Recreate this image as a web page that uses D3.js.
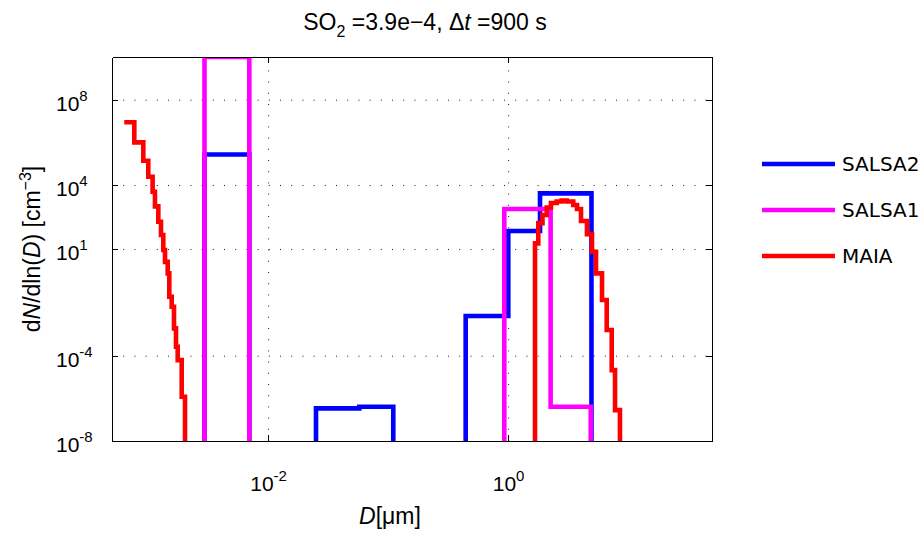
<!DOCTYPE html>
<html lang="en">

<head>
    <meta charset="utf-8">
    <title>size distribution</title>
    <script src="https://cdn.jsdelivr.net/npm/d3@7"></script>
</head>
<style>
    body {
        margin: 0;
        background: #fff;
    }

    svg text {
        font-family: "Liberation Sans", Arial, sans-serif;
        fill: #000;
    }

    .grid line {
        stroke: #000;
        stroke-width: 0.9;
        stroke-dasharray: 1, 10.2;
    }

    .grid path {
        display: none;
    }

    .axis path,
    .axis line {
        fill: none;
        stroke: #000;
        stroke-width: 1;
        shape-rendering: crispEdges;
    }

    .legend text {
        font-family: "DejaVu Sans", sans-serif;
        font-size: 20px;
    }
</style>

<body>
    <script>
        // tick values
        var xTicks = [1e-2, 1e0];
        var yTicks = [1e-8, 1e-4, 1e1, 1e4, 1e8];

        // SALSA2: bin edges [um] and dN/dlnD per bin (0 = below axis)
        var salsa2Edges = [2.5e-3, 2.95e-3, 6.97e-3, 0.02506, 0.0575, 0.1104, 0.443, 1.003, 1.844, 4.95, 6];
        var salsa2Values = [0, 2.7e5, 0, 3.4e-7, 4.0e-7, 0, 7.2e-3, 70, 4070, 0];

        // SALSA1
        var salsa1Edges = [2.5e-3, 2.95e-3, 6.97e-3, 0.929, 2.26, 4.88, 6];
        var salsa1Values = [0, 1e10, 0, 748, 4.0e-7, 0];

        // MAIA
        var maiaEdges = [6.33e-4, 7.67e-4, 9.12e-4, 1.003e-3, 1.09e-3, 1.14e-3, 1.216e-3, 1.28e-3, 1.338e-3,
            1.383e-3, 1.456e-3, 1.501e-3, 1.572e-3, 1.643e-3, 1.707e-3, 1.764e-3, 1.905e-3, 2.03e-3,
            1.675, 1.784, 1.934, 2.097, 2.275, 2.54, 2.796, 3.076, 3.49, 3.75, 4.05, 4.54, 5.0, 5.40,
            6.06, 6.63, 7.30, 7.78, 8.55, 10];
        var maiaValues = [8.7e6, 1e6, 1.37e5, 2.44e4, 4.84e3, 1e3, 190, 45, 9, 2.5, 0.72, 0.058, 0.0197,
            1.9e-3, 2.6e-4, 6.2e-5, 1.19e-6,
            0,
            18.4, 160, 392, 880, 1430, 1680, 1870, 1680, 1150, 748, 205, 50, 7.4, 0.72, 0.041, 1.6e-3,
            2.1e-5, 2.8e-7,
            0];

        var seriesNames = ["SALSA2", "SALSA1", "MAIA"];
        var seriesColors = ["#0000ff", "#ff00ff", "#ff0000"];

        // 画布
        var width = 919;
        var height = 535;
        var padding = { left: 112, right: 207, top: 57, bottom: 94 };
        var plotW = width - padding.left - padding.right;
        var plotH = height - padding.top - padding.bottom;

        var svg = d3.select("body")
            .append("svg")
            .attr("width", width)
            .attr("height", height);

        var x = d3.scaleLog().domain([5e-4, 50]).range([0, plotW]);
        var y = d3.scaleLog().domain([1e-8, 1e10]).range([plotH, 0]);

        var g = svg.append("g")
            .attr("transform", "translate(" + padding.left + "," + padding.top + ")");

        // dotted grid
        g.append("g")
            .attr("class", "grid")
            .attr("transform", "translate(0," + plotH + ")")
            .call(d3.axisBottom(x).tickValues(xTicks).tickSize(-plotH).tickFormat(""));
        g.append("g")
            .attr("class", "grid")
            .call(d3.axisLeft(y).tickValues(yTicks).tickSize(-plotW).tickFormat(""));

        // stairs data
        function stairs(edges, values) {
            var pts = [];
            for (var i = 0; i < values.length; i++) {
                pts.push([edges[i], values[i]]);
                pts.push([edges[i + 1], values[i]]);
            }
            return pts;
        }

        var line = d3.line()
            .x(function (d) { return x(d[0]); })
            .y(function (d) { return y(Math.max(d[1], 1e-9)); });

        svg.append("clipPath")
            .attr("id", "clip")
            .append("rect")
            .attr("width", plotW)
            .attr("height", plotH);

        var allSeries = [
            stairs(salsa2Edges, salsa2Values),
            stairs(salsa1Edges, salsa1Values),
            stairs(maiaEdges, maiaValues)
        ];

        g.append("g")
            .attr("clip-path", "url(#clip)")
            .selectAll("path")
            .data(allSeries)
            .enter()
            .append("path")
            .attr("d", line)
            .attr("fill", "none")
            .attr("stroke", function (d, i) { return seriesColors[i]; })
            .attr("stroke-width", 4.6)
            .attr("stroke-linejoin", "miter");

        // axes: ticks pointing inward, box on all sides
        function powLabel(sel, size) {
            sel.each(function (d) {
                var t = d3.select(this);
                var e = Math.round(Math.log10(d));
                t.text("10");
                t.append("tspan")
                    .attr("dy", -10)
                    .attr("font-size", size)
                    .text(e < 0 ? "-" + (-e) : e);
            });
        }

        var xAxis = g.append("g")
            .attr("class", "axis")
            .attr("transform", "translate(0," + plotH + ")")
            .call(d3.axisBottom(x).tickValues(xTicks).tickSizeInner(-6).tickSizeOuter(0));
        xAxis.selectAll("text")
            .attr("y", 50)
            .attr("dy", null)
            .attr("font-size", 21)
            .call(powLabel, 15);

        var yAxis = g.append("g")
            .attr("class", "axis")
            .call(d3.axisLeft(y).tickValues(yTicks).tickSizeInner(-6).tickSizeOuter(0));
        yAxis.selectAll("text")
            .attr("x", -56)
            .attr("dy", "0.5em")
            .attr("text-anchor", "start")
            .attr("font-size", 21)
            .call(powLabel, 15);

        g.append("g")
            .attr("class", "axis")
            .call(d3.axisTop(x).tickValues(xTicks).tickSizeInner(-6).tickSizeOuter(0).tickFormat(""));
        g.append("g")
            .attr("class", "axis")
            .attr("transform", "translate(" + plotW + ",0)")
            .call(d3.axisRight(y).tickValues(yTicks).tickSizeInner(-6).tickSizeOuter(0).tickFormat(""));

        // title
        var title = svg.append("text")
            .attr("x", 425)
            .attr("y", 30)
            .attr("text-anchor", "middle")
            .attr("font-size", 23);
        title.append("tspan").text("SO");
        title.append("tspan").attr("font-size", 16).attr("dy", 7).text("2");
        title.append("tspan").attr("dy", -7).text(" =3.9e\u22124, \u0394");
        title.append("tspan").attr("font-style", "italic").text("t");
        title.append("tspan").text(" =900 s");

        // x label
        var xLabel = svg.append("text")
            .attr("x", 390)
            .attr("y", 524)
            .attr("text-anchor", "middle")
            .attr("font-size", 23);
        xLabel.append("tspan").attr("font-style", "italic").text("D");
        xLabel.append("tspan").text("[\u03bcm]");

        // y label
        var yLabel = svg.append("text")
            .attr("transform", "translate(40," + (padding.top + plotH / 2) + ") rotate(-90)")
            .attr("text-anchor", "middle")
            .attr("font-size", 23);
        yLabel.append("tspan").text("d");
        yLabel.append("tspan").attr("font-style", "italic").text("N");
        yLabel.append("tspan").text("/dln(");
        yLabel.append("tspan").attr("font-style", "italic").text("D");
        yLabel.append("tspan").text(") [cm");
        yLabel.append("tspan").attr("font-size", 16).attr("dy", -9).text("\u22123");
        yLabel.append("tspan").attr("dy", 9).text("]");

        // legend
        var legend = svg.append("g")
            .attr("class", "legend")
            .selectAll("g")
            .data(seriesNames)
            .enter()
            .append("g")
            .attr("transform", function (d, i) { return "translate(762," + (164 + i * 46) + ")"; });
        legend.append("line")
            .attr("x1", 0)
            .attr("x2", 73)
            .attr("stroke", function (d, i) { return seriesColors[i]; })
            .attr("stroke-width", 4.6);
        legend.append("text")
            .attr("x", 80)
            .attr("dy", "0.36em")
            .text(function (d) { return d; });
    </script>
</body>

</html>
